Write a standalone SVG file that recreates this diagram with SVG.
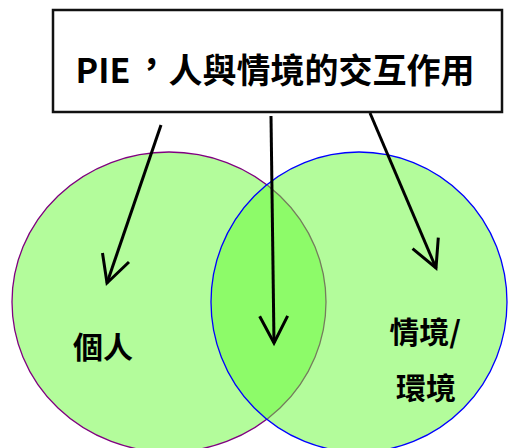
<svg xmlns="http://www.w3.org/2000/svg" width="508" height="448" viewBox="0 0 508 448" xml:lang="zh-TW">
<style>
.set{fill:rgb(103,249,55);fill-opacity:.5;stroke-width:1.3}
.t{font-family:"Noto Sans CJK TC","Noto Sans CJK SC",sans-serif;font-weight:bold;fill:#000}
.arr{fill:none;stroke:#000;stroke-width:3;marker-end:url(#v)}
</style>
<defs>
<marker id="v" viewBox="0 0 28 30" refX="28" refY="15" markerWidth="28" markerHeight="30" markerUnits="userSpaceOnUse" orient="auto" overflow="visible">
<path d="M1,1 L28,15 L1,29" fill="none" stroke="#000" stroke-width="3" stroke-linejoin="miter"/>
</marker>
</defs>
<rect width="508" height="448" fill="#fff"/>
<g id="person">
<ellipse class="set" cx="169" cy="302" rx="157" ry="150" stroke="#800080"/>
<text class="t" x="103" y="358" font-size="30" text-anchor="middle">個人</text>
</g>
<g id="environment">
<ellipse class="set" cx="359" cy="302" rx="148" ry="150" stroke="#0000ff"/>
<text class="t" x="425" y="343" font-size="30" text-anchor="middle">情境/</text>
<text class="t" x="426" y="399" font-size="30" text-anchor="middle">環境</text>
</g>
<g id="title">
<rect x="53" y="10" width="449" height="102" fill="#fff" stroke="#111" stroke-width="2.5"/>
<text class="t" x="275" y="83" font-size="34" text-anchor="middle">PIE<tspan dx="4" dy="-7">，</tspan><tspan dy="7">人與情境的交互作用</tspan></text>
</g>
<g id="connectors">
<line class="arr" x1="161" y1="125" x2="107" y2="283"/>
<line class="arr" x1="271" y1="116" x2="274" y2="343"/>
<line class="arr" x1="370" y1="113" x2="436" y2="268"/>
</g>
</svg>
